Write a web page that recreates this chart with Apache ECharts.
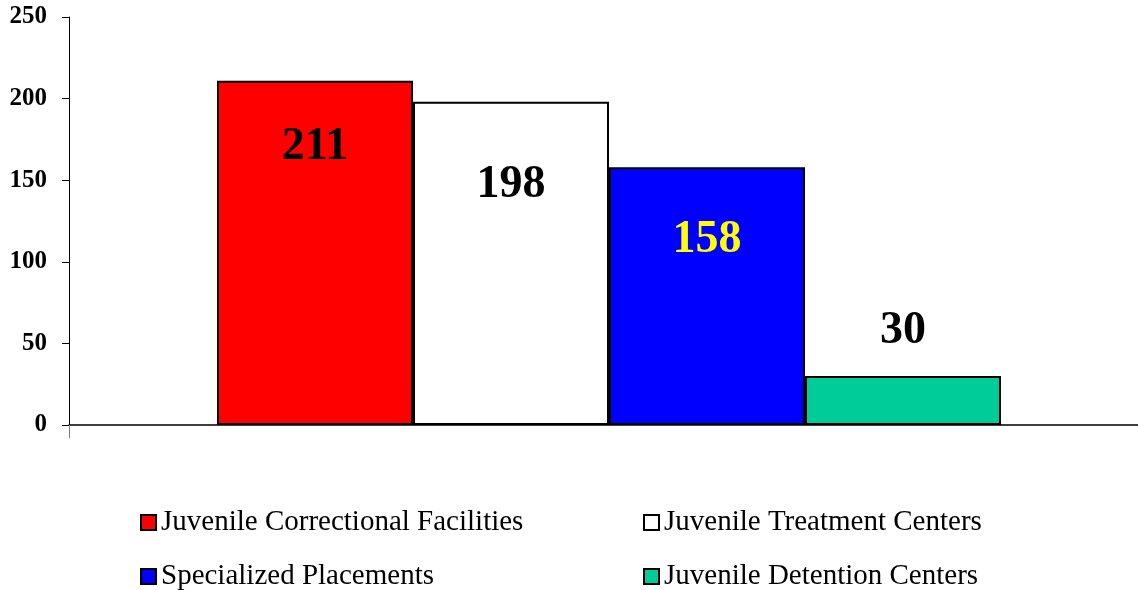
<!DOCTYPE html>
<html>
<head>
<meta charset="utf-8">
<script src="https://cdn.jsdelivr.net/npm/echarts@6/dist/echarts.min.js"></script>
<style>html,body{margin:0;padding:0;background:#fff;}#c{width:1138px;height:590px;}</style>
</head>
<body>
<div id="c"></div>
<script>
const categories = [''];
const seriesNames = ['Juvenile Correctional Facilities', 'Juvenile Treatment Centers', 'Specialized Placements', 'Juvenile Detention Centers'];
const seriesValues = [[211], [198], [158], [30]];
const yTicks = [0, 50, 100, 150, 200, 250];

const colors = ['#FF0000', '#FFFFFF', '#0000FF', '#00CC99'];
const labelColors = ['#000', '#000', '#FFFF00', '#000'];
const labelOffsets = [66, 83, 73, -45];
const serif = '"Liberation Serif", "Times New Roman", serif';

const chart = echarts.init(document.getElementById('c'), null, {renderer: 'canvas'});
const legendPos = [[140, 508], [643, 508], [140, 562], [643, 562]];
chart.setOption({
  animation: false,
  backgroundColor: '#fff',
  grid: {left: 69, top: 17, width: 1080, height: 408, containLabel: false, outerBoundsMode: 'none'},
  legend: seriesNames.map((n, i) => ({
    data: [n], left: legendPos[i][0], top: legendPos[i][1], padding: 0,
    itemWidth: 15, itemHeight: 15, icon: 'rect', itemGap: 0,
    itemStyle: {borderColor: '#000', borderWidth: 2},
    textStyle: {fontFamily: serif, fontSize: 29, color: '#000'}
  })),
  xAxis: {
    type: 'category', data: categories,
    axisLine: {lineStyle: {color: '#000', width: 1.5}},
    axisTick: {show: true, length: 13, lineStyle: {color: '#808080'}},
    axisLabel: {show: false}
  },
  yAxis: {
    type: 'value', min: yTicks[0], max: yTicks[yTicks.length - 1], interval: 50,
    splitLine: {show: false},
    axisLine: {show: true, lineStyle: {color: '#000', width: 1}},
    axisTick: {show: true, length: 7, lineStyle: {color: '#000'}},
    axisLabel: {fontFamily: serif, fontWeight: 'bold', fontSize: 25, color: '#000', margin: 22}
  },
  series: seriesNames.map((n, i) => ({
    name: n, type: 'bar', data: seriesValues[i], barWidth: 196, barGap: '0%',
    itemStyle: {color: colors[i], borderColor: '#000', borderWidth: 2},
    label: {
      show: true, position: ['50%', labelOffsets[i]], align: 'center', verticalAlign: 'middle',
      fontFamily: serif, fontWeight: 'bold', fontSize: 46, color: labelColors[i]
    }
  }))
});
</script>
</body>
</html>
